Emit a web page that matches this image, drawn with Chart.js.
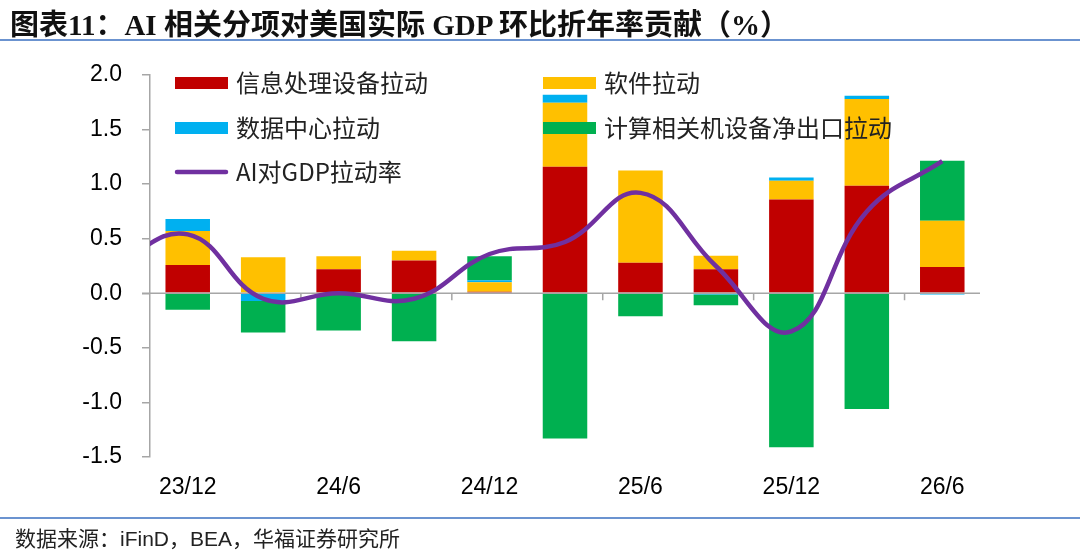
<!DOCTYPE html>
<html>
<head>
<meta charset="utf-8">
<script src="https://cdn.jsdelivr.net/npm/chart.js@4.4.1/dist/chart.umd.min.js"></script>
<style>
  html, body { margin: 0; padding: 0; background: #fff; }
  #wrap { position: relative; width: 1080px; height: 553px; overflow: hidden; }
  #chart { position: absolute; left: 0; top: 0; }
  #title {
    position: absolute; left: 10px; top: 1px;
    font-family: "Liberation Serif", "Noto Sans CJK SC", serif;
    font-weight: bold; font-size: 29px; color: #111; white-space: nowrap;
  }
  .rule { position: absolute; left: 0; width: 1080px; height: 2px; background: #6b93d0; }
  #source {
    position: absolute; left: 15px; top: 522px;
    font-family: "Liberation Sans", "Noto Sans CJK SC", sans-serif;
    font-size: 21px; color: #222; white-space: nowrap;
  }
</style>
</head>
<body>
<div id="wrap">
  <canvas id="chart" width="1080" height="553"></canvas>
  <div id="title">图表11：AI 相关分项对美国实际 GDP 环比折年率贡献（%）</div>
  <div class="rule" style="top:39px"></div>
  <div class="rule" style="top:517px; height:1.5px"></div>
  <div id="source">数据来源：iFinD，BEA，华福证券研究所</div>
</div>
<script>
// quarters; 23/9 only feeds the start of the line, which is clipped at the axis
const quarters = ['23/9', '23/12', '24/3', '24/6', '24/9', '24/12', '25/3', '25/6', '25/9', '25/12', '26/3', '26/6'];
const infoEquip = [null, 0.26, 0.00, 0.22, 0.30, 0.015, 1.16, 0.28, 0.22, 0.86, 0.985, 0.24];
const software = [null, 0.31, 0.33, 0.12, 0.09, 0.085, 0.585, 0.845, 0.125, 0.17, 0.795, 0.425];
const dataCenter = [null, 0.11, -0.07, 0.00, 0.00, 0.02, 0.075, 0.00, -0.01, 0.03, 0.03, -0.01];
const netExport = [null, -0.15, -0.29, -0.34, -0.44, 0.22, -1.33, -0.21, -0.10, -1.41, -1.06, 0.55];
const aiTotal = [0.25, 0.54, -0.05, 0.00, -0.05, 0.36, 0.47, 0.92, 0.25, -0.35, 0.75, 1.21];
const yTicks = [-1.5, -1.0, -0.5, 0.0, 0.5, 1.0, 1.5, 2.0];

const axisGray = '#a6a6a6';

// zero line + small category ticks, drawn over bars but under the line
const zeroLine = {
    id: 'zeroLine',
    beforeDatasetDraw(chart, args) {
        if (args.meta.type !== 'line') return;
        const {ctx, chartArea, scales} = chart;
        const y0 = scales.y.getPixelForValue(0);
        ctx.save();
        ctx.strokeStyle = axisGray;
        ctx.lineWidth = 1.5;
        ctx.beginPath();
        ctx.moveTo(chartArea.left - 8, y0);
        ctx.lineTo(chartArea.right, y0);
        for (let i = 2; i < quarters.length - 1; i += 2) {
            const x = (scales.x.getPixelForValue(i) + scales.x.getPixelForValue(i + 1)) / 2;
            ctx.moveTo(x, y0);
            ctx.lineTo(x, y0 + 7);
        }
        ctx.stroke();
        ctx.restore();
    }
};

// two-column legend inside the plot
const boxLegend = {
    id: 'boxLegend',
    afterDraw(chart) {
        const {ctx, chartArea} = chart;
        const colX = [chartArea.left + 25, chartArea.left + 393];
        const rowY = [chartArea.top + 8, chartArea.top + 53, chartArea.top + 97];
        ctx.save();
        ctx.font = '24px "Noto Sans CJK SC", sans-serif';
        ctx.textBaseline = 'middle';
        chart.data.datasets.forEach((ds, i) => {
            const x = colX[i % 2];
            const y = rowY[Math.floor(i / 2)];
            if (ds.type === 'line') {
                ctx.strokeStyle = ds.borderColor;
                ctx.lineWidth = 4.5;
                ctx.lineCap = 'round';
                ctx.beginPath();
                ctx.moveTo(x + 2, y);
                ctx.lineTo(x + 51, y);
                ctx.stroke();
            } else {
                ctx.fillStyle = ds.backgroundColor;
                ctx.fillRect(x, y - 6, 53, 12);
            }
            ctx.fillStyle = '#222';
            ctx.fillText(ds.label, x + 61, y);
        });
        ctx.restore();
    }
};

const ctx = document.getElementById('chart').getContext('2d');
new Chart(ctx, {
    data: {
        labels: quarters,
        datasets: [
            { type: 'bar', label: '信息处理设备拉动', data: infoEquip, backgroundColor: '#c00000', order: 1 },
            { type: 'bar', label: '软件拉动', data: software, backgroundColor: '#ffc000', order: 1 },
            { type: 'bar', label: '数据中心拉动', data: dataCenter, backgroundColor: '#00b0f0', order: 1 },
            { type: 'bar', label: '计算相关机设备净出口拉动', data: netExport, backgroundColor: '#00b050', order: 1 },
            {
                type: 'line', label: 'AI对GDP拉动率', data: aiTotal,
                borderColor: '#7030a0', borderWidth: 4.5, pointRadius: 0,
                tension: 0.42, order: 0
            }
        ]
    },
    options: {
        responsive: false,
        animation: false,
        layout: { padding: { top: 75, right: 100, bottom: 46, left: 0 } },
        datasets: { bar: { barPercentage: 0.59, categoryPercentage: 1.0 } },
        plugins: {
            legend: { display: false },
            tooltip: { enabled: false }
        },
        scales: {
            x: {
                stacked: true,
                min: '23/12',
                grid: { display: false, drawTicks: false },
                border: { display: false },
                ticks: {
                    autoSkip: false,
                    maxRotation: 0,
                    padding: 17,
                    color: '#000',
                    font: { family: '"Liberation Sans", Arial, sans-serif', size: 23 },
                    callback: function (value) {
                        return value % 2 === 1 ? this.getLabelForValue(value) : '';
                    }
                },
                afterFit: (scale) => { scale.height = 50; }
            },
            y: {
                stacked: true,
                min: yTicks[0],
                max: yTicks[yTicks.length - 1],
                grid: { drawOnChartArea: false, tickLength: 8, tickColor: axisGray, lineWidth: 1.5 },
                border: { color: axisGray, width: 1.5 },
                afterBuildTicks: (scale) => { scale.ticks = yTicks.map(v => ({ value: v })); },
                ticks: {
                    padding: 20,
                    color: '#000',
                    font: { family: '"Liberation Sans", Arial, sans-serif', size: 23 },
                    callback: (v) => v.toFixed(1)
                },
                afterFit: (scale) => { scale.width = 150; }
            }
        }
    },
    plugins: [zeroLine, boxLegend]
});
</script>
</body>
</html>
